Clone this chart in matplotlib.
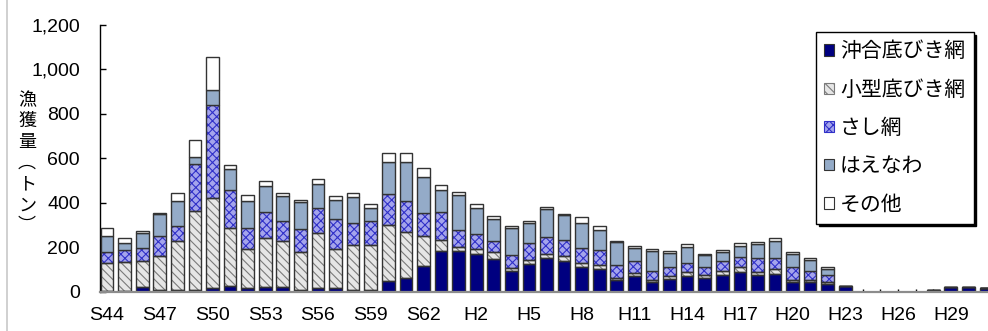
import matplotlib
matplotlib.use("Agg")
import matplotlib.pyplot as plt
from matplotlib.patches import Patch
from matplotlib.lines import Line2D
import numpy as np

plt.rcParams['font.family'] = ['Noto Sans CJK JP', 'DejaVu Sans']
plt.rcParams['hatch.linewidth'] = 0.8

# Fiscal years S44 (1969) .. R1 (2019)
years = (["S%d" % y for y in range(44, 64)] +
         ["H%d" % y for y in range(1, 31)] + ["R1"])

# Catch by gear type (tonnes)
okiai = [3, 3, 22, 8, 8, 8, 15, 25, 15, 22, 20, 10, 19, 15, 10, 10, 48, 63, 115, 184,
         184, 169, 147, 94, 124, 154, 139, 112, 103, 55, 70, 43, 58, 70, 60, 76, 90, 75,
         82, 45, 45, 37, 25, 0, 0, 0, 0, 8, 20, 20, 17]
kogata = [125, 129, 117, 151, 222, 354, 405, 260, 177, 219, 207, 169, 247, 177, 199, 199,
          252, 207, 135, 51, 18, 22, 33, 15, 18, 18, 21, 18, 16, 9, 15, 12, 12, 19, 15, 18,
          22, 15, 19, 10, 10, 7, 0, 0, 0, 0, 0, 0, 0, 0, 0]
sashi = [52, 56, 60, 93, 67, 213, 420, 172, 93, 117, 93, 102, 111, 133, 100, 108, 138, 138,
         102, 124, 75, 70, 49, 58, 78, 75, 72, 69, 70, 58, 54, 37, 42, 40, 37, 45, 45, 60,
         52, 57, 39, 30, 0, 0, 0, 0, 0, 0, 0, 0, 0]
haenawa = [70, 30, 66, 97, 112, 33, 67, 97, 124, 117, 112, 123, 109, 87, 117, 61, 144, 174,
           165, 100, 157, 117, 100, 120, 90, 124, 112, 111, 91, 100, 60, 90, 63, 72, 52, 42,
           48, 64, 75, 60, 51, 28, 0, 0, 0, 0, 0, 0, 0, 0, 0]
sonota = [35, 22, 8, 7, 33, 75, 147, 15, 25, 24, 13, 7, 20, 18, 19, 18, 40, 40, 40, 22, 15,
          15, 10, 7, 9, 10, 7, 27, 15, 7, 9, 10, 9, 12, 7, 9, 15, 12, 15, 7, 9, 9, 2, 0, 0,
          0, 0, 0, 0, 0, 0]

labels = ["沖合底びき網", "小型底びき網", "さし網", "はえなわ", "その他"]
series = [okiai, kogata, sashi, haenawa, sonota]
# (face, hatch, hatch colour)
styles = [("#000080", None, None),
          ("#e6e6e6", "\\\\\\\\", "#7a7a7a"),
          ("#a4a4ec", "xxxx", "#3030c8"),
          ("#94abc8", None, None),
          ("#ffffff", None, None)]

fig = plt.figure(figsize=(9.88, 3.31), dpi=100)
ax = fig.add_axes([100 / 988, 39.2 / 331, 896.5 / 988, 267 / 331])

x = np.arange(len(years))
width = 0.72
bottom = np.zeros(len(years))
for vals, (fc, hatch, hc) in zip(series, styles):
    vals = np.array(vals, dtype=float)
    if hatch:
        ax.bar(x, vals, width, bottom=bottom, color=fc, hatch=hatch,
               edgecolor=hc, linewidth=0, zorder=2)
        ax.bar(x, vals, width, bottom=bottom, fill=False,
               edgecolor="#333333", linewidth=1.0, zorder=3)
    else:
        ax.bar(x, vals, width, bottom=bottom, color=fc,
               edgecolor="#333333", linewidth=1.0, zorder=3)
    bottom += vals

ax.set_xlim(-0.4, 50.6)
ax.set_ylim(0, 1200)
ax.set_yticks(np.arange(0, 1201, 200))
ax.set_yticklabels([f"{v:,}" for v in range(0, 1201, 200)])
ax.set_xticks(x)
ax.set_xticklabels([y if i % 3 == 0 else "" for i, y in enumerate(years)])

for s in ("top", "right"):
    ax.spines[s].set_visible(False)
ax.spines["left"].set_color("#000000")
ax.spines["left"].set_linewidth(1.0)
ax.spines["bottom"].set_color("#8c8c8c")
ax.spines["bottom"].set_linewidth(1.6)
ax.spines["bottom"].set_zorder(4)

ax.tick_params(axis="y", direction="in", length=4, width=1, pad=14.5)
ax.tick_params(axis="x", direction="in", length=2.5, width=1, pad=11)
for t in ax.get_xticklabels() + ax.get_yticklabels():
    t.set_fontfamily("Liberation Sans")
    t.set_fontsize(14)

# vertical axis title
fig.text(27 / 988, 1 - 163 / 331, "漁\n獲\n量\n︵\nト\nン\n︶", ha="center", va="center",
         fontsize=13, linespacing=1.22)

handles = []
for fc, hatch, hc in styles:
    handles.append(Patch(facecolor=fc, edgecolor=hc if hc else "#333333",
                         hatch=hatch, linewidth=0.8))
leg = ax.legend(handles, labels, loc="upper left", bbox_to_anchor=(0.7987, 0.973),
                borderaxespad=0, fontsize=15, frameon=True, fancybox=False,
                shadow={"color": "black", "alpha": 1}, handlelength=0.45,
                handleheight=0.45, handletextpad=0.3, labelspacing=0.78,
                borderpad=0.4)
leg.get_frame().set_edgecolor("black")
leg.get_frame().set_linewidth(1.0)

# thin frame line at the left edge
fig.add_artist(Line2D([7 / 988, 7 / 988], [0, 1], color="#c8c8c8", lw=1.2))

fig.savefig("out.png", dpi=100)
